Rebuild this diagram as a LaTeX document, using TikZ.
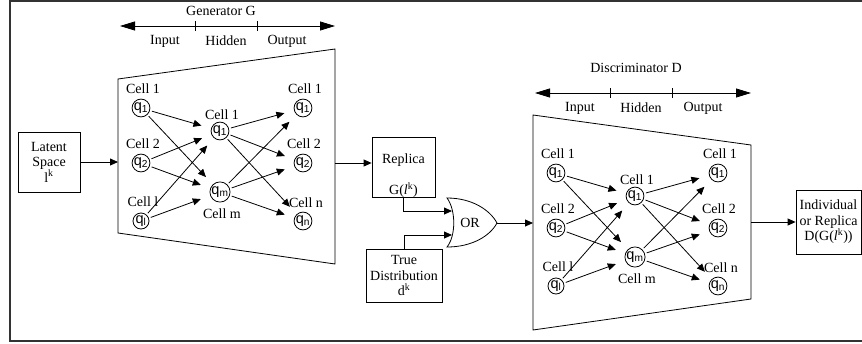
\documentclass[tikz,border=0pt]{standalone}
\usepackage{fontspec}
\setmainfont{Liberation Serif}
\setsansfont{Liberation Sans}
\usetikzlibrary{arrows.meta}

\begin{document}
\begin{tikzpicture}[x=1pt,y=-1pt,line width=0.8pt]
	\tikzstyle{every node}+=[inner sep=0pt,font=\fontsize{14}{15.5}\selectfont]
	\tikzstyle{cell}=[draw,circle,minimum size=16pt,font=\fontsize{14.5}{14.5}\sffamily]
	\tikzstyle{box}=[draw,align=center]
	\tikzstyle{arr}=[-{Triangle[length=8pt,width=7pt]}]
	\tikzstyle{link}=[arr,shorten >=10pt,shorten <=2pt]
	\tikzstyle{axis}=[{Triangle[length=15pt,width=9pt]}-{Triangle[length=15pt,width=9pt]}]
	\useasboundingbox (0,0) rectangle (862,343);
	\draw [black!80,line width=1.5pt] (10,1) rectangle (872,341);
	% generator
	\coordinate (gaxl) at (120,26);
	\coordinate (gaxr) at (335,26);
	\draw [axis] (gaxl) -- (gaxr);
	\draw (195,21) -- (195,31);
	\draw (257,21) -- (257,31);
	\node (gtitle) at (221,11) {Generator G};
	\node (ginput) at (165,41) {Input};
	\node (ghidden) at (226,41) {Hidden};
	\node (goutput) at (287,41) {Output};
	\draw (118,79) -- (335,49) -- (335,264) -- (118,233) -- cycle;
	\coordinate (gin) at (118,162);
	\coordinate (gout) at (335,163);
	\node [cell] (gi1) at (141,108) {q\textsubscript{1}};
	\node [cell] (gi2) at (141,163) {q\textsubscript{2}};
	\node [cell] (gil) at (141,221) {q\textsubscript{l}};
	\node [cell] (gh1) at (220,131) {q\textsubscript{1}};
	\node [cell] (ghm) at (220,192) {q\textsubscript{m}};
	\node [cell] (go1) at (303,108) {q\textsubscript{1}};
	\node [cell] (go2) at (303,163) {q\textsubscript{2}};
	\node [cell] (gon) at (303,221) {q\textsubscript{n}};
	\node (gli1) at (143,89) {Cell 1};
	\node (gli2) at (143,144) {Cell 2};
	\node (glil) at (143,202) {Cell l};
	\node (glh1) at (222,115) {Cell 1};
	\node (glhm) at (222,214) {Cell m};
	\node (glo1) at (305,89) {Cell 1};
	\node (glo2) at (304,144) {Cell 2};
	\node (glon) at (306,203) {Cell n};
	\draw [link] (gi1) -- (gh1);
	\draw [link] (gi1) -- (ghm);
	\draw [link] (gi2) -- (gh1);
	\draw [link] (gi2) -- (ghm);
	\draw [link] (gil) -- (gh1);
	\draw [link] (gil) -- (ghm);
	\draw [link] (gh1) -- (go1);
	\draw [link] (gh1) -- (go2);
	\draw [link] (gh1) -- (gon);
	\draw [link] (ghm) -- (go1);
	\draw [link] (ghm) -- (go2);
	\draw [link] (ghm) -- (gon);
	% boxes and gate
	\node [box,minimum width=62pt,minimum height=60pt] (latent) at (49,162) {Latent\\Space\\l\textsuperscript{k}};
	\node [box,minimum width=63pt,minimum height=60pt] (replica) at (403.5,167) {};
	\node (replicatxt) at (403.5,160) {Replica};
	\node (replicag) at (403.5,190) {G(\textit{l}\textsuperscript{k})};
	\node [box,minimum width=76pt,minimum height=53pt] (truedist) at (404,275.5) {True\\Distribution\\d\textsuperscript{k}};
	\draw (447,198) .. controls (456,210) and (456,236) .. (447,247) .. controls (472,247) and (490,236) .. (497,223) .. controls (490,210) and (472,198) .. (447,198) -- cycle;
	\node (orgate) at (470,223) {OR};
	\coordinate (orin1) at (452,211);
	\coordinate (orin2) at (452,235);
	\coordinate (orout) at (497,223);
	\node [box,minimum width=65pt,minimum height=64pt] (indiv) at (828.5,222) {Individual\\or Replica\\D(G(\textit{l}\textsuperscript{k}))};
	% discriminator
	\coordinate (daxl) at (535,93);
	\coordinate (daxr) at (751,93);
	\draw [axis] (daxl) -- (daxr);
	\draw (610,88) -- (610,98);
	\draw (672,88) -- (672,98);
	\node (dtitle) at (636,68) {Discriminator D};
	\node (dinput) at (580,108) {Input};
	\node (dhidden) at (641,108) {Hidden};
	\node (doutput) at (703,108) {Output};
	\draw (533,115) -- (751,145) -- (751,299) -- (533,330) -- cycle;
	\coordinate (din) at (533,223);
	\coordinate (dout) at (751,222);
	\node [cell] (di1) at (556,173) {q\textsubscript{1}};
	\node [cell] (di2) at (556,228) {q\textsubscript{2}};
	\node [cell] (dil) at (556,286) {q\textsubscript{l}};
	\node [cell] (dh1) at (635,196) {q\textsubscript{1}};
	\node [cell] (dhm) at (635,257) {q\textsubscript{m}};
	\node [cell] (do1) at (718,173) {q\textsubscript{1}};
	\node [cell] (do2) at (718,228) {q\textsubscript{2}};
	\node [cell] (don) at (718,286) {q\textsubscript{n}};
	\node (dli1) at (558,154) {Cell 1};
	\node (dli2) at (558,209) {Cell 2};
	\node (dlil) at (558,267) {Cell l};
	\node (dlh1) at (637,180) {Cell 1};
	\node (dlhm) at (637,279) {Cell m};
	\node (dlo1) at (720,154) {Cell 1};
	\node (dlo2) at (719,209) {Cell 2};
	\node (dlon) at (721,268) {Cell n};
	\draw [link] (di1) -- (dh1);
	\draw [link] (di1) -- (dhm);
	\draw [link] (di2) -- (dh1);
	\draw [link] (di2) -- (dhm);
	\draw [link] (dil) -- (dh1);
	\draw [link] (dil) -- (dhm);
	\draw [link] (dh1) -- (do1);
	\draw [link] (dh1) -- (do2);
	\draw [link] (dh1) -- (don);
	\draw [link] (dhm) -- (do1);
	\draw [link] (dhm) -- (do2);
	\draw [link] (dhm) -- (don);
	% connections
	\draw [arr] (latent) -- (gin);
	\draw [arr] (gout) -- (gout -| replica.west);
	\draw [arr] (replica.south) |- (orin1);
	\draw [arr] (truedist.north) |- (orin2);
	\draw [arr] (orout) -- (din);
	\draw [arr] (dout) -- (indiv);
\end{tikzpicture}
\end{document}
